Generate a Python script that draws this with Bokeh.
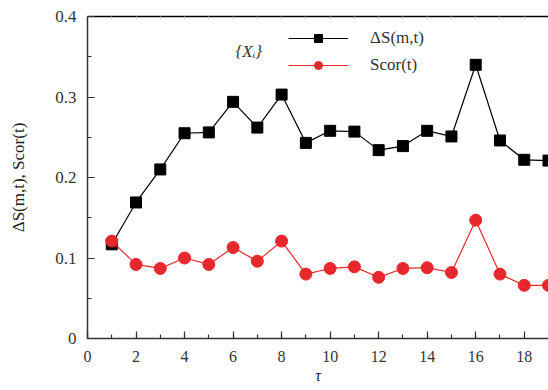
from bokeh.plotting import figure
from bokeh.models import (FixedTicker, LinearAxis, Range1d, Legend, LegendItem,
                          Label, CustomJSTickFormatter)
from bokeh.embed import file_html
from bokeh.resources import INLINE

tau = [1, 2, 3, 4, 5, 6, 7, 8, 9, 10, 11, 12, 13, 14, 15, 16, 17, 18, 19]
delta_s = [0.117, 0.169, 0.210, 0.255, 0.256, 0.294, 0.262, 0.303, 0.243, 0.258,
           0.257, 0.234, 0.239, 0.258, 0.251, 0.340, 0.246, 0.222, 0.221]
scor = [0.121, 0.092, 0.087, 0.100, 0.092, 0.113, 0.096, 0.121, 0.080, 0.087,
        0.089, 0.076, 0.087, 0.088, 0.082, 0.147, 0.080, 0.066, 0.066]
x_major = [0, 2, 4, 6, 8, 10, 12, 14, 16, 18]
x_minor = list(range(0, 20))
y_major = [0, 0.1, 0.2, 0.3, 0.4]
y_minor = [0.05, 0.15, 0.25, 0.35]

FONT = "serif"
AX = "#333333"
RED = "#e8282c"

p = figure(width=548, height=390, output_backend="svg", toolbar_location=None,
           x_range=Range1d(0, 19.0), y_range=Range1d(0, 0.4),
           min_border_left=87, min_border_right=0, min_border_top=16,
           min_border_bottom=52)
p.outline_line_color = None
p.grid.visible = False
p.background_fill_color = "white"
p.border_fill_color = "white"

l1 = p.line(tau, delta_s, line_color="black", line_width=1.2)
m1 = p.scatter(tau, delta_s, marker="square", size=11, fill_color="black", line_color="black")
l2 = p.line(tau, scor, line_color=RED, line_width=1.2)
m2 = p.scatter(tau, scor, marker="circle", size=12, fill_color=RED, line_color=RED)

fmt = CustomJSTickFormatter(code="return tick == 0 ? '0' : (Number.isInteger(tick) ? tick.toString() : tick.toFixed(1));")

xa = p.xaxis[0]
xa.ticker = FixedTicker(ticks=x_major, minor_ticks=x_minor)
xa.formatter = fmt
xa.axis_label = "τ"
xa.axis_label_text_font_style = "italic"

ya = p.yaxis[0]
ya.ticker = FixedTicker(ticks=y_major, minor_ticks=y_minor)
ya.formatter = fmt
ya.axis_label = "ΔS(m,t), Scor(t)"
ya.axis_label_text_font_style = "normal"

for ax in (xa, ya):
    ax.axis_line_color = AX
    ax.axis_line_width = 1.5
    ax.major_tick_line_color = AX
    ax.minor_tick_line_color = AX
    ax.major_tick_in = 7
    ax.major_tick_out = 0
    ax.minor_tick_in = 4
    ax.minor_tick_out = 0
    ax.major_tick_line_width = 1.2
    ax.minor_tick_line_width = 1.2
    ax.major_label_text_font = FONT
    ax.major_label_text_font_size = "17px"
    ax.major_label_text_color = "#333333"
    ax.axis_label_text_font = FONT
    ax.axis_label_text_font_size = "17px"
    ax.axis_label_text_color = "#222222"
xa.major_label_text_font_size = "16px"
xa.axis_label_text_font_size = "16px"
xa.major_label_standoff = 12
xa.axis_label_standoff = 2
ya.major_label_standoff = 11
ya.axis_label_standoff = 24

top = LinearAxis(ticker=FixedTicker(ticks=x_minor, minor_ticks=[]),
                 formatter=fmt)
top.axis_line_color = "black"
top.axis_line_width = 1.5
top.major_tick_in = 3
top.major_tick_out = 0
top.major_tick_line_color = "#cccccc"
top.minor_tick_line_color = None
top.major_label_text_font_size = "0px"
top.major_label_text_color = None
top.major_label_standoff = 0
p.add_layout(top, "above")

legend = Legend(items=[LegendItem(label="ΔS(m,t)", renderers=[l1, m1]),
                       LegendItem(label="Scor(t)", renderers=[l2, m2])],
                location=(201, 263), glyph_width=60, glyph_height=20,
                label_height=20, spacing=7, padding=0, margin=0,
                label_standoff=22, border_line_color=None,
                background_fill_alpha=0, label_text_font=FONT,
                label_text_font_size="17px", label_text_color="#333333")
p.add_layout(legend)

p.add_layout(Label(x=148, y=287, x_units="screen", y_units="screen",
                   text="{Xᵢ}", text_font=FONT, text_font_size="17px",
                   text_font_style="italic", text_color="#333333",
                   text_baseline="middle"))

open("out.html", "w").write(file_html(p, INLINE))
